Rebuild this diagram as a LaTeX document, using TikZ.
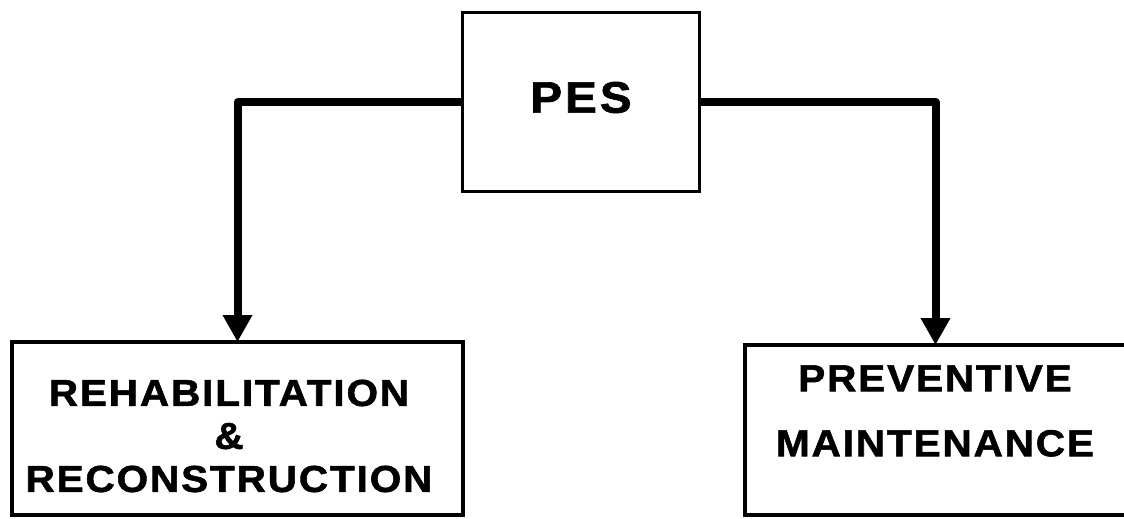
\documentclass[tikz,border=0pt]{standalone}
\usepackage{fontspec}
\setmainfont{Liberation Sans}
\usetikzlibrary{arrows.meta,positioning}

\begin{document}
\begin{tikzpicture}[x=1pt,y=-1pt,
  box/.style={draw,line width=3.5pt,inner sep=0pt,outer sep=0pt},
  txt/.style={align=center,inner sep=0pt},
  link/.style={line width=8pt,line join=round,-{Triangle[length=27pt,width=28pt]}}]
\useasboundingbox (0,0) rectangle (1124,519);

% boxes
\node[box,minimum width=237pt,minimum height=179pt] (pes) at (581,102) {};
\node[box,minimum width=451pt,minimum height=173pt] (rehab) at (237.5,428.5) {};
\node[box,minimum width=381pt,minimum height=170pt] (prev) at (935.5,430) {};

% texts
\node[txt,font=\fontsize{44}{50}\selectfont\bfseries\addfontfeatures{FakeStretch=1.08,FakeBold=1.5,LetterSpace=7}] (pestxt) at (581,97.5) {PES};
\node[txt,font=\fontsize{37.5}{43}\selectfont\bfseries\addfontfeatures{FakeStretch=1.08,FakeBold=1.5,LetterSpace=5}] (rehabtxt) at (229,436) {REHABILITATION\\\&\\RECONSTRUCTION};
\node[txt,font=\fontsize{37.5}{65}\selectfont\bfseries\addfontfeatures{FakeStretch=1.08,FakeBold=1.5,LetterSpace=5}] (prevtxt) at (935,411) {PREVENTIVE\\MAINTENANCE};

% connectors
\draw[link] (pes.west) -| (rehab.north);
\draw[link] (pes.east) -| (prev.north);

\end{tikzpicture}
\end{document}
